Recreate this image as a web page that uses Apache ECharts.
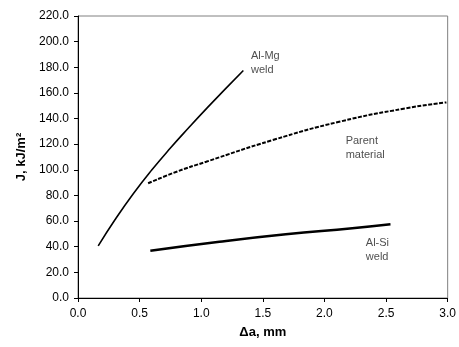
<!DOCTYPE html>
<html>
<head>
<meta charset="utf-8">
<script src="https://cdn.jsdelivr.net/npm/echarts@6/dist/echarts.min.js"></script>
<style>
  html, body { margin: 0; padding: 0; background: #fff; }
  #chart { width: 459px; height: 347px; }
</style>
</head>
<body>
<div id="chart"></div>
<script>
// J-R curves: [delta a (mm), J (kJ/m2)]
const alMgWeld = [
  [0.164, 40.6], [0.3, 61.0], [0.45, 81.5], [0.6, 100.0], [0.75, 117.0],
  [0.9, 133.0], [1.05, 148.5], [1.2, 163.5], [1.342, 177.5]
];
const parentMaterial = [
  [0.569, 89.5], [0.8, 98.5], [1.04, 106.3], [1.58, 123.2], [2.12, 137.5],
  [2.66, 148.0], [2.99, 152.6]
];
const alSiWeld = [
  [0.587, 36.9], [1.148, 43.9], [1.687, 49.7], [2.226, 54.4], [2.536, 57.5]
];

// curve labels and where they sit (data coords of the left/middle of the text)
const curveLabels = [
  { text: "Al-Mg\nweld", at: [1.404, 183.7] },
  { text: "Parent\nmaterial", at: [2.172, 117.4] },
  { text: "Al-Si\nweld", at: [2.336, 37.8] }
];

const yTicks = [0, 20, 40, 60, 80, 100, 120, 140, 160, 180, 200, 220];
const xTicks = [0, 0.5, 1.0, 1.5, 2.0, 2.5, 3.0];

const font = "Liberation Sans, Arial, sans-serif";

const chart = echarts.init(document.getElementById("chart"));
chart.setOption({
  backgroundColor: "#fff",
  animation: false,
  grid: {
    left: 78,
    right: 10,
    top: 16,
    bottom: 49,
    show: true,
    borderColor: "#808080",
    borderWidth: 1,
    backgroundColor: "transparent"
  },
  xAxis: {
    type: "value",
    min: xTicks[0],
    max: xTicks[xTicks.length - 1],
    interval: 0.5,
    name: "\u0394a, mm",
    nameLocation: "middle",
    nameGap: 28,
    nameTextStyle: { fontFamily: font, fontSize: 13, fontWeight: "bold", color: "#000" },
    axisLine: { lineStyle: { color: "#000", width: 1 } },
    axisTick: { show: true, inside: false, length: 4, lineStyle: { color: "#000" } },
    axisLabel: {
      fontFamily: font, fontSize: 12, color: "#000", margin: 10,
      formatter: (v) => v.toFixed(1)
    },
    splitLine: { show: false }
  },
  yAxis: {
    type: "value",
    min: yTicks[0],
    max: yTicks[yTicks.length - 1],
    interval: 20,
    name: "J, kJ/m\u00b2",
    nameLocation: "middle",
    nameGap: 50,
    nameTextStyle: { fontFamily: font, fontSize: 13, fontWeight: "bold", color: "#000" },
    axisLine: { show: true, lineStyle: { color: "#000", width: 1 } },
    axisTick: { show: true, inside: false, length: 4, lineStyle: { color: "#000" } },
    axisLabel: {
      fontFamily: font, fontSize: 12, color: "#000", margin: 9,
      formatter: (v) => v.toFixed(1)
    },
    splitLine: { show: false }
  },
  series: [
    {
      name: "Al-Mg weld",
      type: "line",
      smooth: true,
      showSymbol: false,
      lineStyle: { color: "#000", width: 1.6 },
      data: alMgWeld
    },
    {
      name: "Parent material",
      type: "line",
      smooth: true,
      showSymbol: false,
      lineStyle: { color: "#000", width: 2, type: [4, 1.5] },
      data: parentMaterial
    },
    {
      name: "Al-Si weld",
      type: "line",
      smooth: true,
      showSymbol: false,
      lineStyle: { color: "#000", width: 2.5 },
      data: alSiWeld
    },
    {
      name: "labels",
      type: "scatter",
      symbolSize: 0,
      silent: true,
      label: {
        show: true,
        position: "right",
        distance: 0,
        align: "left",
        fontFamily: font,
        fontSize: 11,
        lineHeight: 14,
        color: "#222",
        formatter: (p) => p.data.text
      },
      data: curveLabels.map((l) => ({ value: l.at, text: l.text }))
    }
  ]
});
</script>
</body>
</html>
